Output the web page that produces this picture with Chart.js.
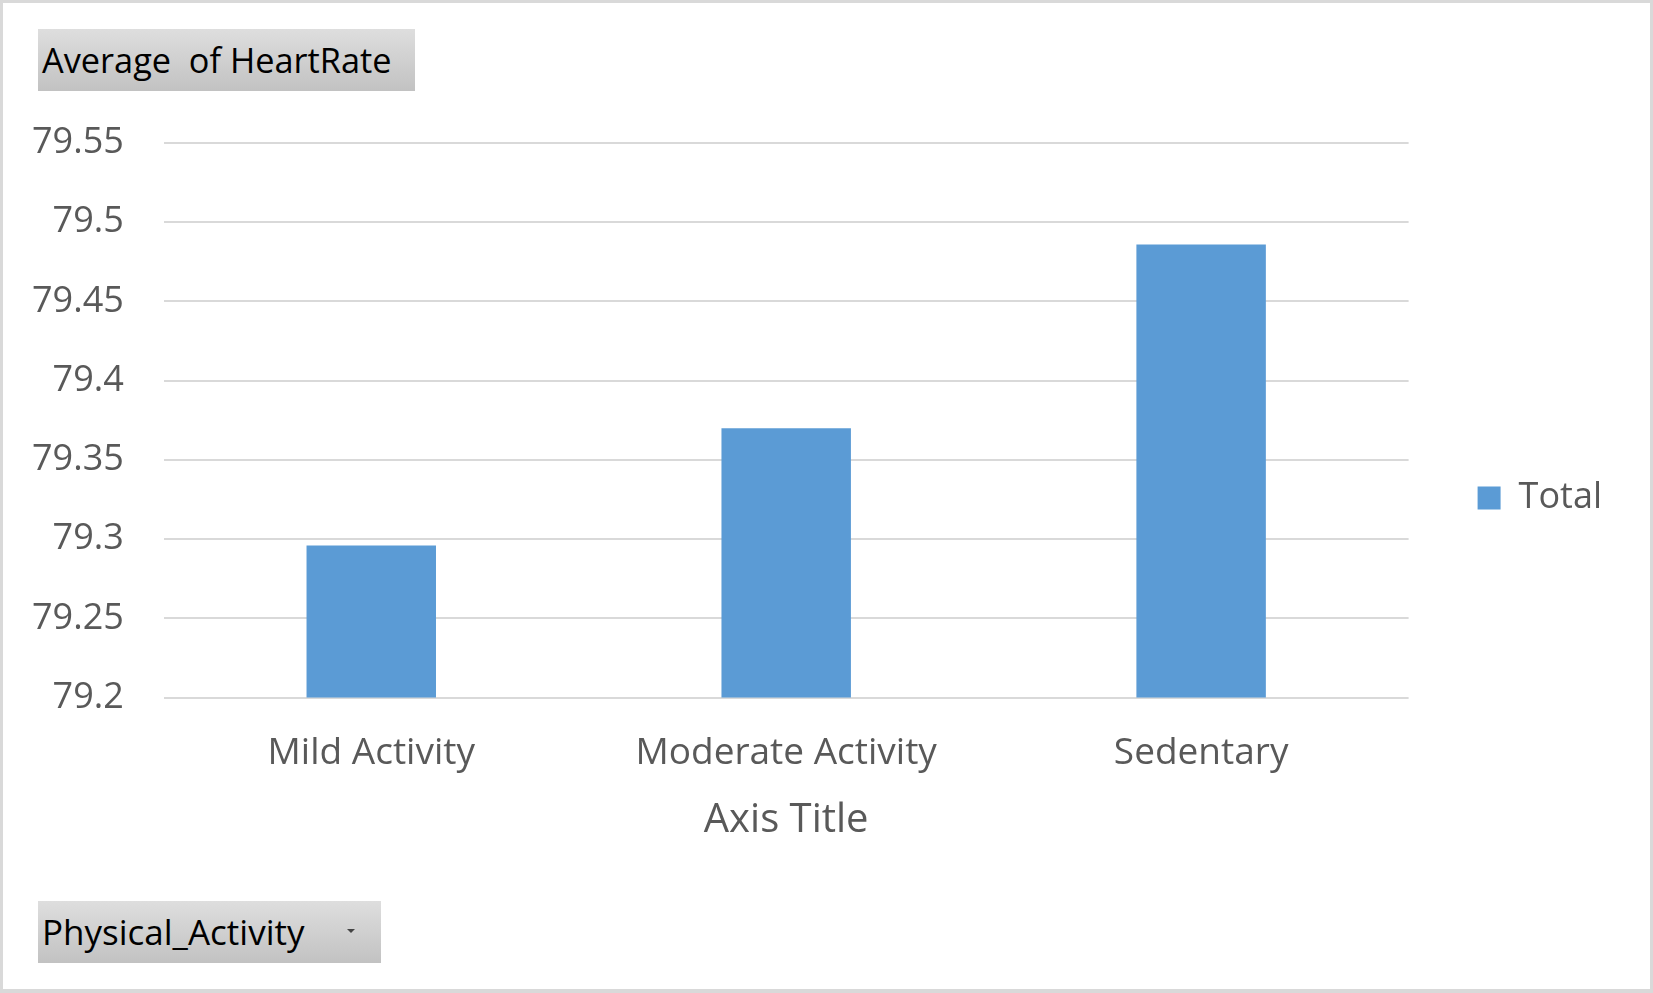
<!DOCTYPE html>
<html>
<head>
<meta charset="utf-8">
<script src="https://cdn.jsdelivr.net/npm/chart.js@4/dist/chart.umd.min.js"></script>
<style>
  html, body { margin: 0; padding: 0; background: #fff; }
  #frame {
    position: relative;
    width: 1653px;
    height: 993px;
    box-sizing: border-box;
    border: 3px solid #d9d9d9;
    border-bottom-width: 4px;
    overflow: hidden;
  }
  #wrap { position: absolute; left: 0; top: 0; width: 1653px; height: 993px; }
  .pivotBtn {
    position: absolute;
    left: 35px;
    height: 62px;
    line-height: 62px;
    padding-left: 4px;
    box-sizing: border-box;
    background: linear-gradient(#dedede, #c2c2c2);
    color: #000;
    font-family: "Open Sans", sans-serif;
    white-space: pre;
  }
  #titleBtn { top: 26px; width: 377px; font-size: 34.3px; }
  #fieldBtn { top: 898px; width: 343px; font-size: 35px; }
  #fieldBtn .arrow {
    position: absolute;
    left: 309px;
    top: 28px;
    width: 0; height: 0;
    border-left: 4px solid transparent;
    border-right: 4px solid transparent;
    border-top: 4px solid #444;
  }
</style>
</head>
<body>
<div id="frame">
  <div id="wrap"><canvas id="chart"></canvas></div>
  <div id="titleBtn" class="pivotBtn">Average  of HeartRate</div>
  <div id="fieldBtn" class="pivotBtn">Physical_Activity<span class="arrow"></span></div>
</div>
<script>
// values
const categories = ['Mild Activity', 'Moderate Activity', 'Sedentary'];
const avgHeartRate = [79.296, 79.37, 79.486];
const seriesName = 'Total';
const yMin = 79.2;
const yMax = 79.55;
const yStep = 0.05;

const grey = '#595959';
const font = 'Open Sans';

// chart.js reserves tick padding on both sides of the labels; keep only one
const onePad = s => {
  if (s.isHorizontal()) s.height -= s.options.ticks.padding;
  else s.width -= s.options.ticks.padding;
};

const ctx = document.getElementById('chart').getContext('2d');
new Chart(ctx, {
  type: 'bar',
  data: {
    labels: categories,
    datasets: [{
      label: seriesName,
      data: avgHeartRate,
      backgroundColor: '#5b9bd5',
      borderWidth: 0,
      barPercentage: 0.39,
      categoryPercentage: 0.8,
      yAxisID: 'y'
    }]
  },
  options: {
    responsive: true,
    maintainAspectRatio: false,
    devicePixelRatio: 1,
    animation: false,
    layout: { autoPadding: false, padding: { left: 29, right: 44, top: 140, bottom: 143 } },
    plugins: {
      tooltip: { enabled: false },
      legend: {
        position: 'right',
        labels: {
          boxWidth: 23,
          boxHeight: 23,
          padding: 20,
          color: grey,
          font: { family: font, size: 36 }
        }
      }
    },
    scales: {
      x: {
        afterFit: onePad,
        grid: { display: false },
        border: { display: false },
        ticks: { color: grey, padding: 26, maxRotation: 0, autoSkip: false, font: { family: font, size: 37 } },
        title: {
          display: true,
          text: 'Axis Title',
          color: grey,
          font: { family: font, size: 40 },
          padding: { top: 21, bottom: 8 }
        }
      },
      y: {
        afterFit: onePad,
        min: yMin,
        max: yMax,
        grid: { color: '#d9d9d9', lineWidth: 2, drawTicks: false },
        border: { display: false },
        ticks: {
          stepSize: yStep,
          padding: 40,
          color: grey,
          font: { family: font, size: 36 },
          callback: v => String(Number(v.toFixed(2)))
        }
      },
      gap: {
        type: 'linear',
        position: 'right',
        grid: { display: false },
        border: { display: false },
        ticks: { display: false },
        afterFit: s => { s.width = 49; }
      }
    }
  }
});
</script>
</body>
</html>
